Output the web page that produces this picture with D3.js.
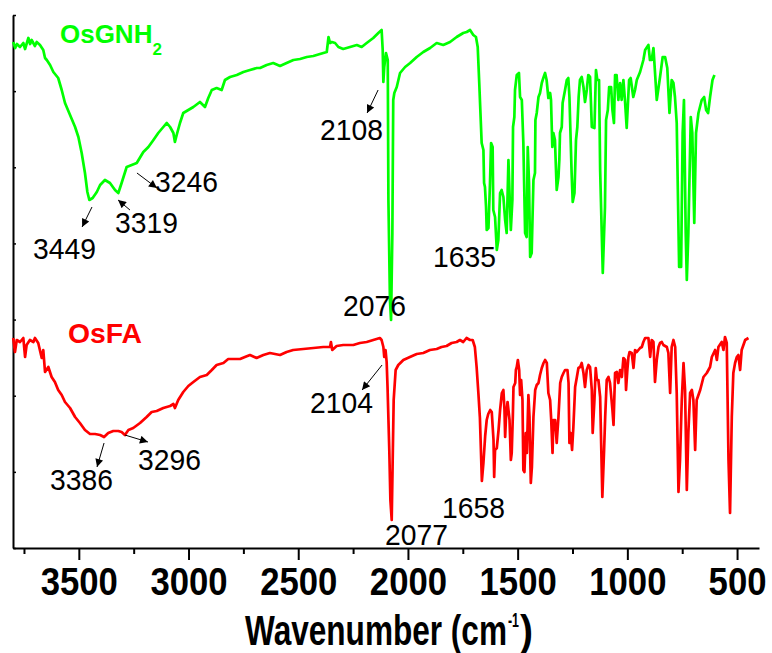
<!DOCTYPE html>
<html>
<head>
<meta charset="utf-8">
<script src="https://cdn.jsdelivr.net/npm/d3@7"></script>
<style>
  body { margin: 0; background: #fff; }
  svg { display: block; font-family: "Liberation Sans", Arial, sans-serif; }
</style>
</head>
<body>
<script>
// [wavenumber, signal]
var osgnh2Spectrum = [[3799,506],[3790,500],[3782,504],[3768,501],[3753,505],[3745,499],[3730,510],[3722,504],[3715,508],[3700,502],[3692,506],[3677,503],[3662,498],[3654,490],[3646,488],[3631,483],[3616,476],[3594,470],[3578,458],[3563,445],[3540,433],[3517,421],[3502,411],[3487,395],[3472,375],[3461,356],[3452,348],[3437,350],[3418,356],[3403,363],[3381,368],[3358,365],[3335,358],[3320,355],[3305,365],[3282,381],[3259,383],[3236,385],[3206,396],[3183,401],[3160,408],[3138,415],[3115,421],[3099,425],[3084,421],[3069,415],[3062,406],[3054,413],[3039,425],[3024,435],[3001,438],[2978,441],[2948,446],[2925,441],[2910,450],[2894,458],[2872,460],[2849,458],[2834,468],[2811,471],[2780,473],[2750,476],[2720,478],[2689,480],[2674,480],[2644,483],[2614,485],[2583,482],[2553,485],[2522,488],[2492,489],[2461,491],[2431,492],[2401,494],[2370,496],[2362,511],[2355,505],[2347,506],[2332,505],[2317,501],[2295,499],[2264,501],[2233,503],[2211,501],[2188,505],[2158,510],[2135,515],[2120,518],[2115,498],[2112,466],[2108,481],[2100,495],[2092,488],[2089,348],[2082,248],[2077,228],[2071,315],[2067,448],[2062,455],[2051,461],[2036,475],[2013,481],[1990,485],[1960,491],[1930,496],[1899,500],[1869,505],[1839,503],[1808,506],[1778,511],[1748,515],[1732,516],[1717,518],[1702,513],[1690,511],[1682,501],[1675,465],[1664,405],[1656,398],[1653,365],[1649,361],[1644,341],[1641,318],[1633,320],[1626,365],[1621,405],[1614,401],[1611,338],[1603,331],[1595,298],[1588,308],[1580,355],[1573,358],[1565,351],[1557,328],[1550,315],[1542,388],[1537,355],[1531,318],[1524,348],[1521,421],[1515,431],[1512,458],[1504,473],[1494,475],[1489,451],[1481,448],[1474,405],[1466,315],[1459,311],[1454,401],[1448,365],[1443,291],[1436,295],[1428,368],[1421,375],[1419,428],[1413,435],[1405,451],[1398,455],[1390,465],[1383,470],[1375,475],[1368,468],[1360,450],[1352,455],[1348,448],[1342,401],[1337,415],[1330,408],[1322,358],[1314,371],[1310,388],[1307,415],[1299,421],[1295,445],[1284,458],[1276,468],[1269,470],[1264,451],[1254,375],[1249,346],[1241,355],[1234,408],[1228,421],[1222,451],[1216,468],[1208,471],[1200,461],[1193,446],[1185,458],[1178,473],[1170,471],[1162,421],[1150,420],[1143,478],[1137,468],[1129,468],[1124,378],[1112,275],[1102,341],[1097,428],[1089,438],[1083,461],[1074,461],[1068,438],[1061,425],[1056,473],[1049,473],[1041,448],[1033,465],[1026,448],[1018,468],[1011,448],[1003,420],[992,468],[985,470],[973,451],[965,458],[957,468],[942,476],[927,488],[919,498],[904,503],[897,488],[889,488],[881,500],[866,448],[851,471],[839,491],[828,491],[818,480],[808,435],[798,468],[790,465],[783,451],[775,425],[764,281],[755,281],[748,415],[742,448],[734,315],[729,268],[722,315],[711,431],[704,415],[695,325],[687,415],[676,435],[661,448],[650,451],[641,438],[632,435],[623,451],[612,468],[603,473]];

var osfaSpectrum = [[3799,210],[3791,196],[3783,208],[3768,206],[3753,210],[3745,191],[3738,203],[3723,208],[3707,206],[3700,210],[3685,205],[3669,190],[3662,198],[3654,176],[3639,181],[3624,171],[3609,166],[3594,158],[3578,153],[3563,146],[3540,140],[3517,131],[3495,125],[3472,118],[3449,114],[3426,114],[3403,113],[3385,111],[3366,115],[3343,117],[3320,117],[3305,116],[3290,113],[3274,118],[3252,120],[3221,125],[3191,131],[3168,136],[3145,137],[3115,140],[3084,142],[3069,144],[3062,140],[3047,148],[3024,156],[3001,162],[2978,166],[2948,171],[2917,173],[2894,178],[2872,183],[2841,185],[2819,189],[2796,189],[2765,189],[2743,191],[2720,193],[2690,190],[2659,193],[2629,195],[2583,193],[2553,196],[2523,198],[2477,199],[2431,200],[2386,201],[2355,201],[2351,206],[2345,198],[2325,202],[2295,203],[2249,203],[2219,205],[2188,206],[2158,208],[2128,210],[2120,208],[2112,201],[2108,191],[2102,198],[2097,186],[2093,161],[2085,98],[2080,48],[2074,28],[2070,81],[2065,148],[2056,178],[2044,183],[2021,188],[1991,191],[1960,194],[1930,195],[1900,198],[1869,199],[1847,201],[1824,202],[1801,205],[1778,206],[1763,208],[1748,206],[1733,210],[1717,208],[1705,208],[1695,201],[1687,181],[1679,155],[1672,130],[1663,67],[1656,85],[1648,112],[1641,128],[1634,134],[1625,138],[1618,136],[1610,108],[1607,71],[1603,98],[1595,100],[1587,118],[1580,138],[1572,155],[1565,158],[1560,138],[1557,111],[1553,131],[1546,146],[1542,138],[1537,128],[1531,88],[1527,95],[1522,131],[1519,161],[1511,165],[1508,178],[1504,181],[1499,188],[1493,178],[1489,153],[1484,168],[1478,148],[1474,78],[1469,76],[1463,115],[1458,95],[1451,153],[1446,131],[1443,95],[1440,65],[1435,81],[1428,131],[1420,158],[1413,163],[1405,165],[1398,173],[1390,180],[1382,185],[1375,188],[1367,185],[1360,155],[1352,148],[1347,128],[1341,95],[1337,128],[1329,128],[1322,105],[1314,131],[1306,165],[1299,171],[1291,175],[1284,178],[1273,178],[1268,165],[1264,105],[1258,115],[1252,98],[1246,121],[1238,161],[1230,171],[1223,180],[1215,181],[1208,185],[1200,175],[1193,161],[1185,178],[1177,183],[1170,181],[1162,158],[1158,115],[1150,148],[1144,180],[1139,168],[1132,168],[1124,151],[1114,51],[1106,98],[1101,131],[1094,168],[1086,171],[1079,165],[1068,138],[1063,123],[1056,175],[1048,176],[1041,165],[1033,178],[1025,171],[1018,190],[1010,188],[1006,158],[1000,178],[995,191],[990,196],[980,195],[972,180],[965,198],[957,196],[942,200],[934,201],[927,206],[919,210],[904,210],[896,191],[889,208],[881,206],[874,166],[866,188],[858,201],[851,205],[843,206],[836,203],[820,201],[813,195],[805,155],[798,201],[790,208],[782,201],[775,155],[767,56],[760,88],[752,148],[744,185],[737,158],[729,58],[722,115],[714,155],[706,158],[699,148],[691,98],[684,148],[668,158],[653,171],[638,175],[623,181],[615,191],[600,198],[592,188],[585,201],[570,206],[562,198],[555,211],[547,205],[539,88],[532,35],[524,131],[517,175],[509,185],[501,191],[494,193],[486,178],[479,198],[463,208],[448,210]];

var majorTicks = [3500, 3000, 2500, 2000, 1500, 1000, 500];
var minorTicks = [3750, 3250, 2750, 2250, 1750, 1250, 750];
var osgnh2Peaks = ["3449", "3319", "3246", "2108", "2076", "1635"];
var osfaPeaks = ["3386", "3296", "2104", "2077", "1658"];

// where each peak label sits, in data units: text corner and arrow (from -> head)
var peakPlacement = {
  "3449": {t: [3709, 289], a: [[3440, 341], [3485, 321]]},
  "3319": {t: [3335, 315], a: [[3267, 338], [3321, 348]]},
  "3246": {t: [3153, 356], a: [[3235, 375], [3144, 360]]},
  "2108": {t: [2401, 408], a: [[2136, 458], [2186, 435]]},
  "2076": {t: [2296, 232]},
  "1635": {t: [1886, 281]},
  "3386": {t: [3631, 58], a: [[3385, 105], [3417, 81]]},
  "3296": {t: [3230, 78], a: [[3290, 113], [3185, 106]]},
  "2104": {t: [2446, 135], a: [[2118, 183], [2209, 158]]},
  "2077": {t: [2104, 3]},
  "1658": {t: [1845, 30]}
};

var width = 772;
var height = 653;
var green = "#0f0";
var red = "#f00";

var svg = d3.select("body").append("svg")
    .attr("width", width)
    .attr("height", height);

var xScale = d3.scaleLinear()
    .domain([3800, 400])
    .range([13, 759]);
var yScale = d3.scaleLinear()
    .domain([0, 533])
    .range([548, 15]);

svg.append("defs").append("marker")
    .attr("id", "head")
    .attr("viewBox", "0 0 10 10")
    .attr("refX", 10)
    .attr("refY", 5)
    .attr("markerWidth", 11)
    .attr("markerHeight", 8)
    .attr("markerUnits", "userSpaceOnUse")
    .attr("orient", "auto")
  .append("path")
    .attr("d", "M0,0L10,5L0,10z")
    .attr("fill", "#000");

// axes
var xAxis = d3.axisBottom(xScale)
    .tickValues(majorTicks)
    .tickSize(12)
    .tickSizeOuter(0)
    .tickFormat(d3.format("d"));
var gx = svg.append("g")
    .attr("transform", "translate(0,548)")
    .call(xAxis);
gx.attr("font-family", null).attr("font-size", null);
gx.select(".domain").attr("stroke-width", 2);
gx.selectAll(".tick line").attr("stroke-width", 2);
gx.selectAll(".tick text")
    .attr("y", 47)
    .attr("dy", null)
    .attr("font-size", 38)
    .attr("font-weight", "bold")
    .attr("fill", "#000")
    .attr("textLength", function(d) { return String(d).length * 19.3; })
    .attr("lengthAdjust", "spacingAndGlyphs");

var gxMinor = svg.append("g")
    .attr("transform", "translate(0,548)")
    .call(d3.axisBottom(xScale).tickValues(minorTicks).tickSize(6).tickFormat(""));
gxMinor.select(".domain").remove();
gxMinor.selectAll(".tick line").attr("stroke-width", 2);

var gy = svg.append("g")
    .attr("transform", "translate(13,0)")
    .call(d3.axisLeft(yScale)
        .tickValues(d3.range(8).map(function(i) { return i * 533 / 7; }))
        .tickSize(-3)
        .tickSizeOuter(0)
        .tickFormat(""));
gy.select(".domain").attr("stroke-width", 2);
gy.selectAll(".tick line").attr("stroke-width", 1.5);

// spectra
var line = d3.line()
    .x(function(d) { return xScale(d[0]); })
    .y(function(d) { return yScale(d[1]); });

svg.append("path")
    .datum(osgnh2Spectrum)
    .attr("d", line)
    .attr("fill", "none")
    .attr("stroke", green)
    .attr("stroke-width", 2.7)
    .attr("stroke-linejoin", "round");

svg.append("path")
    .datum(osfaSpectrum)
    .attr("d", line)
    .attr("fill", "none")
    .attr("stroke", red)
    .attr("stroke-width", 2.7)
    .attr("stroke-linejoin", "round");

// series names
var nameG = svg.append("text")
    .attr("x", xScale(3586))
    .attr("y", yScale(505))
    .attr("font-weight", "bold")
    .attr("fill", green);
nameG.append("tspan").attr("font-size", 26).text("OsGNH");
nameG.append("tspan").attr("font-size", 17).attr("dy", 12).text("2");

svg.append("text")
    .attr("x", xScale(3549))
    .attr("y", yScale(205))
    .attr("font-size", 28)
    .attr("font-weight", "bold")
    .attr("fill", red)
    .attr("textLength", 74)
    .attr("lengthAdjust", "spacingAndGlyphs")
    .text("OsFA");

// peak labels
var peaks = osgnh2Peaks.concat(osfaPeaks);
svg.selectAll(".peak")
    .data(peaks)
    .enter().append("text")
    .attr("class", "peak")
    .attr("x", function(d) { return xScale(peakPlacement[d].t[0]); })
    .attr("y", function(d) { return yScale(peakPlacement[d].t[1]); })
    .attr("font-size", 30)
    .attr("fill", "#000")
    .attr("textLength", 63)
    .attr("lengthAdjust", "spacingAndGlyphs")
    .text(function(d) { return d; });

svg.selectAll(".arrow")
    .data(peaks.filter(function(d) { return peakPlacement[d].a; }))
    .enter().append("line")
    .attr("class", "arrow")
    .attr("x1", function(d) { return xScale(peakPlacement[d].a[0][0]); })
    .attr("y1", function(d) { return yScale(peakPlacement[d].a[0][1]); })
    .attr("x2", function(d) { return xScale(peakPlacement[d].a[1][0]); })
    .attr("y2", function(d) { return yScale(peakPlacement[d].a[1][1]); })
    .attr("stroke", "#000")
    .attr("stroke-width", 1)
    .attr("marker-end", "url(#head)");

// axis title: one text, superscript as a tspan
var title = svg.append("text")
    .attr("x", 245)
    .attr("y", 645)
    .attr("font-size", 42)
    .attr("font-weight", "bold");
title.append("tspan")
    .attr("textLength", 262)
    .attr("lengthAdjust", "spacingAndGlyphs")
    .text("Wavenumber (cm");
title.append("tspan")
    .attr("dx", 1)
    .attr("dy", -18)
    .attr("font-size", 21)
    .attr("textLength", 11)
    .attr("lengthAdjust", "spacingAndGlyphs")
    .text("-1");
title.append("tspan")
    .attr("dx", 1)
    .attr("dy", 18)
    .attr("textLength", 13)
    .attr("lengthAdjust", "spacingAndGlyphs")
    .text(")");
</script>
</body>
</html>
